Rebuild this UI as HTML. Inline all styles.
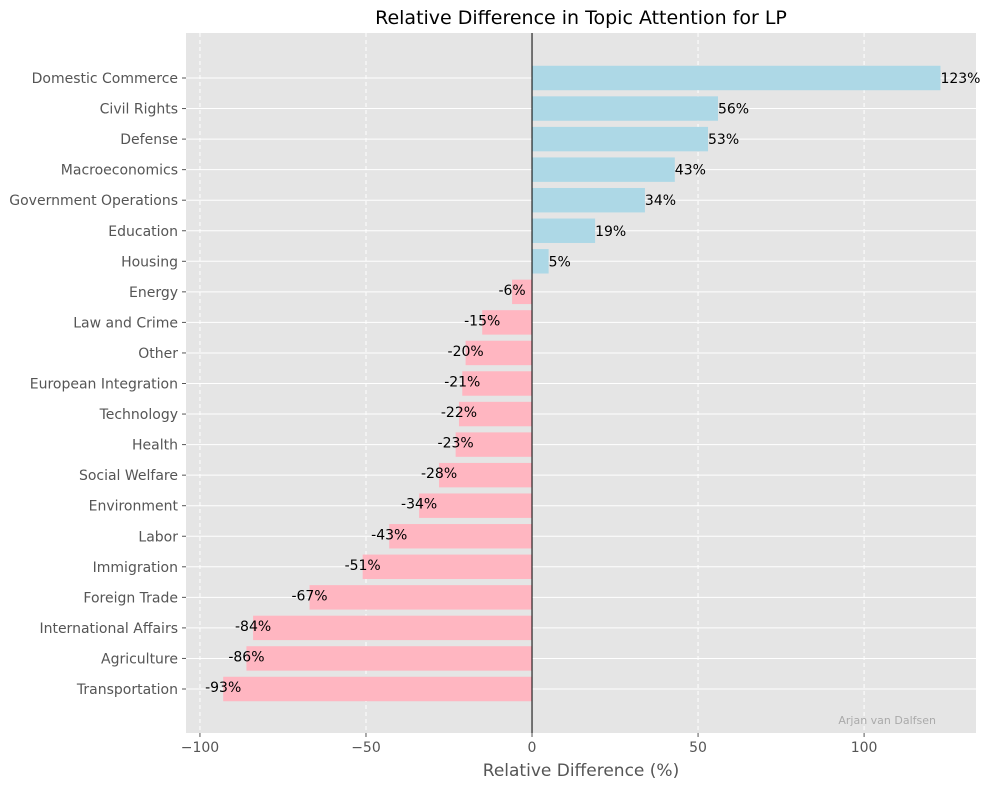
<!DOCTYPE html>
<html><head><meta charset="utf-8"><style>
body{margin:0;background:#fff;font-family:"Liberation Sans","DejaVu Sans",sans-serif;}
svg text{font-family:"DejaVu Sans","Liberation Sans",sans-serif;}
</style></head><body>
<svg id="chart" width="989" height="790" xmlns="http://www.w3.org/2000/svg"></svg>
<script>
const categories=["Domestic Commerce","Civil Rights","Defense","Macroeconomics","Government Operations","Education","Housing","Energy","Law and Crime","Other","European Integration","Technology","Health","Social Welfare","Environment","Labor","Immigration","Foreign Trade","International Affairs","Agriculture","Transportation"];
const values=[123,56,53,43,34,19,5,-6,-15,-20,-21,-22,-23,-28,-34,-43,-51,-67,-84,-86,-93];
const xTicks=[-100,-50,0,50,100];
const xTickLabels=["−100","−50","0","50","100"];

const NS="http://www.w3.org/2000/svg";
const svg=document.getElementById('chart');
const L=186,R=976,T=33,B=733;
const xMin=-104.2,xMax=133.7;
const x=v=>L+(v-xMin)/(xMax-xMin)*(R-L);
const y0=78,step=30.55;
const y=i=>y0+i*step;
const bh=step*0.8;
function el(tag,attrs,parent){const e=document.createElementNS(NS,tag);for(const k in attrs)e.setAttribute(k,attrs[k]);(parent||svg).appendChild(e);return e;}

const bg=el('rect',{x:L,y:T,width:R-L,height:B-T,fill:'#e5e5e5'});



categories.forEach((c,i)=>{
  const g=el('line',{x1:L,x2:R,y1:y(i),y2:y(i),stroke:'#fff','stroke-width':1});
  
  
});
xTicks.forEach((t,i)=>{
  const g=el('line',{x1:x(t),x2:x(t),y1:T,y2:B,stroke:'#fff','stroke-width':1,'stroke-dasharray':'4,3'});
  
  
  const tk=el('line',{x1:x(t),x2:x(t),y1:B,y2:B+4,stroke:'#555'});
  
  
  const lb=el('text',{x:x(t),y:B+19,'font-size':14,fill:'#555','text-anchor':'middle'});
  lb.textContent=xTickLabels[i];
  
  
});

categories.forEach((c,i)=>{
  const v=values[i];
  const r=el('rect',{x:Math.min(x(0),x(v)),y:y(i)-bh/2,width:Math.abs(x(v)-x(0)),height:bh,fill:v>=0?'#add8e6':'#ffb6c1'});
  
  
  const tk=el('line',{x1:L-4,x2:L,y1:y(i),y2:y(i),stroke:'#555'});
  
  
  const lb=el('text',{x:L-8,y:y(i)+5,'font-size':14,fill:'#555','text-anchor':'end'});
  lb.textContent=c;
  
  
  const vl=el('text',{x:x(v),y:y(i)+(v>=0?5:3),'font-size':14,fill:'#000','text-anchor':v>=0?'start':'middle'});
  vl.textContent=v+'%';
  
  
});

const z=el('line',{x1:x(0),x2:x(0),y1:T,y2:B,stroke:'#000','stroke-width':1});



const ti=el('text',{x:(L+R)/2,y:24,'font-size':19,fill:'#000','text-anchor':'middle'});
ti.textContent='Relative Difference in Topic Attention for LP';



const xl=el('text',{x:(L+R)/2,y:776,'font-size':17,fill:'#555','text-anchor':'middle'});
xl.textContent='Relative Difference (%)';



const wm=el('text',{x:936,y:724,'font-size':11,fill:'#aaa','text-anchor':'end'});
wm.textContent='Arjan van Dalfsen';


</script>
</body></html>
